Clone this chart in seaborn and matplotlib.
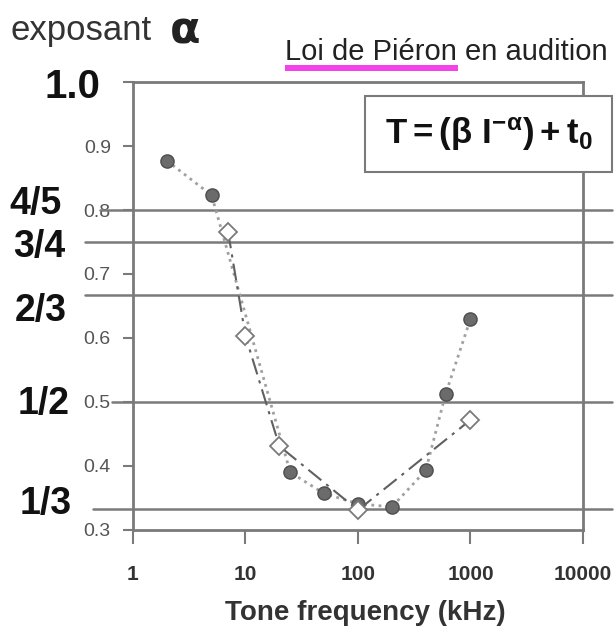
import matplotlib
matplotlib.use('Agg')
import matplotlib.pyplot as plt
import matplotlib.transforms as mtransforms
from matplotlib.patches import Rectangle
from matplotlib.ticker import NullLocator
import seaborn as sns

# -- Data --
freq_dots = [2, 5, 25, 50, 100, 200, 400, 600, 1000]
alpha_dots = [0.877, 0.823, 0.390, 0.357, 0.341, 0.336, 0.393, 0.512, 0.630]

freq_diamonds = [7, 10, 20, 100, 1000]
alpha_diamonds = [0.766, 0.603, 0.431, 0.331, 0.472]

ref_values = [4/5, 3/4, 2/3, 1/2, 1/3]
ref_labels = ['4/5', '3/4', '2/3', '1/2', '1/3']

x_ticks = [1, 10, 100, 1000, 10000]
x_tick_labels = ['1', '10', '100', '1000', '10000']
y_ticks = [0.3, 0.4, 0.5, 0.6, 0.7, 0.8, 0.9, 1.0]
y_tick_labels = ['0.3', '0.4', '0.5', '0.6', '0.7', '0.8', '0.9', '']

# -- Layout --
line_starts = [-0.073, -0.107, -0.107, -0.047, -0.089]   # axes fraction
label_right = [-0.158, -0.151, -0.147, -0.140, -0.136]
label_dy = [-2.9, -10.8, -18.7, -8.6, -3.6]             # points

sns.set_theme(style='white')
plt.rcParams['font.family'] = ['Liberation Sans', 'DejaVu Sans']
plt.rcParams['mathtext.fontset'] = 'custom'
plt.rcParams['mathtext.rm'] = 'Liberation Sans:bold'
plt.rcParams['mathtext.it'] = 'Liberation Sans:bold'
plt.rcParams['mathtext.bf'] = 'Liberation Sans:bold'

grey = '#7a7a7a'

fig = plt.figure(figsize=(6.14, 6.28), dpi=100)
ax = fig.add_axes([0.2166, 0.1561, 0.7329, 0.7133])
blend = mtransforms.blended_transform_factory(ax.transAxes, ax.transData)

# -- reference lines --
for v, x0 in zip(ref_values, line_starts):
    ax.plot([x0, 1.064], [v, v], transform=blend, clip_on=False,
            color=grey, lw=1.8, zorder=1)

# -- series --
sns.lineplot(x=freq_dots, y=alpha_dots, ax=ax, sort=False, estimator=None,
             color='#a0a0a0', lw=2, linestyle=(0, (1, 1.6)),
             marker='o', markersize=9.5, markerfacecolor='#6b6b6b',
             markeredgecolor='#4d4d4d', markeredgewidth=1, zorder=3)
sns.lineplot(x=freq_diamonds, y=alpha_diamonds, ax=ax, sort=False, estimator=None,
             color='#606060', lw=1.5, linestyle=(0, (8, 3, 1.5, 3)),
             marker='D', markersize=9.5, markerfacecolor='white',
             markeredgecolor=grey, markeredgewidth=1.3, zorder=4)

ax.set_xscale('log')
ax.set_xlim(1, 10000)
ax.set_ylim(0.3, 1.0)
ax.set_xticks(x_ticks)
ax.set_xticklabels(x_tick_labels)
ax.xaxis.set_minor_locator(NullLocator())
ax.set_yticks(y_ticks)
ax.set_yticklabels(y_tick_labels)
ax.set_xlabel('')
ax.set_ylabel('')

for s in ax.spines.values():
    s.set_color(grey)
    s.set_linewidth(2)
ax.tick_params(axis='both', which='major', direction='out',
               width=1.5, color=grey, bottom=True, left=True)
ax.tick_params(axis='y', length=7, labelsize=14, labelcolor='#555555', pad=9)
ax.tick_params(axis='x', length=10, labelsize=15, labelcolor='#333333', pad=15)
for t in ax.get_xticklabels():
    t.set_fontweight('bold')

# -- big fraction labels --
for v, lab, xr, dy in zip(ref_values, ref_labels, label_right, label_dy):
    ax.annotate(lab, xy=(xr, v), xycoords=blend, xytext=(0, dy),
                textcoords='offset points', ha='right', va='baseline',
                fontsize=27, fontweight='bold', color='#111111',
                annotation_clip=False)
ax.annotate('1.0', xy=(-0.073, 1.0), xycoords=blend, xytext=(0, -11.5),
            textcoords='offset points', ha='right', va='baseline',
            fontsize=29, fontweight='bold', color='#111111',
            annotation_clip=False)

# -- titles --
fig.text(10/614, 1 - 40/628, 'exposant', fontsize=25, color='#333333', va='baseline')
fig.text(170/614, 1 - 44/628, 'α', fontsize=32, fontweight='bold',
         family=['DejaVu Sans'], color='#222222', va='baseline')
fig.text(285/614, 1 - 60/628, 'Loi de Piéron en audition', fontsize=21,
         color='#222222', va='baseline')
fig.add_artist(Rectangle((285/614, 1 - 71/628), 173/614, 6/628,
                         transform=fig.transFigure, color='#f442e9', lw=0))

# -- formula box --
fig.add_artist(Rectangle((365/614, 1 - 172/628), 247/614, 76/628,
                         transform=fig.transFigure, facecolor='white',
                         edgecolor=grey, lw=1.5))
fig.text(489/614, 1 - 134/628, r'$\mathrm{T = (\beta\ I^{-\alpha}) + t_0}$',
         fontsize=25, color='#111111', ha='center', va='center')

fig.text(365/614, 1 - 620/628, 'Tone frequency (kHz)', fontsize=20,
         fontweight='bold', color='#333333', ha='center', va='baseline')

fig.savefig('out.png', dpi=100)
